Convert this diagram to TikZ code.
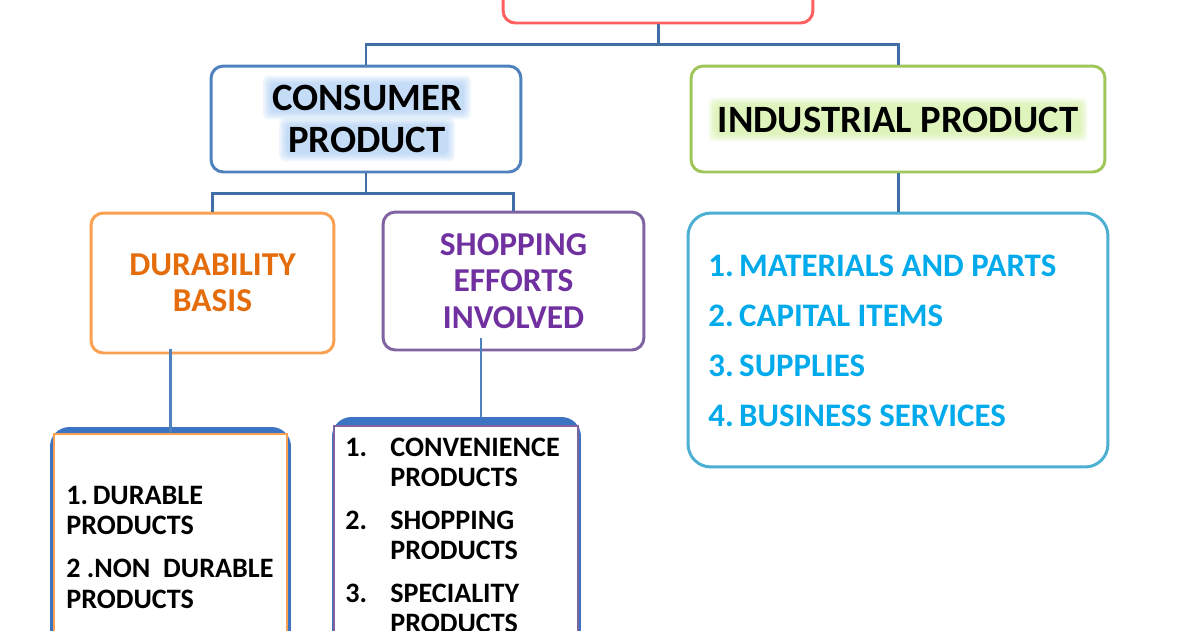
\documentclass[tikz,border=0pt]{standalone}
\usepackage{fontspec}
\setmainfont{Carlito}

\definecolor{linkblue}{RGB}{65,110,165}
\definecolor{redbox}{RGB}{255,95,95}
\definecolor{bluebox}{RGB}{79,129,189}
\definecolor{greenbox}{RGB}{160,198,90}
\definecolor{orangebox}{RGB}{250,160,80}
\definecolor{purplebox}{RGB}{128,100,162}
\definecolor{cyanbox}{RGB}{75,176,210}
\definecolor{durtext}{RGB}{228,108,10}
\definecolor{shoptext}{RGB}{112,48,160}
\definecolor{indtext}{RGB}{0,170,235}
\definecolor{backblue}{RGB}{60,115,195}
\definecolor{glowblue}{RGB}{140,185,240}
\definecolor{glowgreen}{RGB}{200,235,140}

\pgfdeclarelayer{behind}
\pgfsetlayers{behind,main}

\begin{document}
\begin{tikzpicture}[x=0.02cm,y=-0.02cm]
  \tikzstyle{box}=[draw,line width=1.7pt,rounded corners=7pt,align=center]
  \tikzstyle{link}=[draw=linkblue,line width=1.7pt]
  \tikzstyle{drop}=[draw=bluebox,line width=1.6pt]
  \tikzstyle{back}=[fill=backblue,rounded corners=11pt,inner sep=0pt]
  \tikzstyle{front}=[draw,line width=1.3pt,fill=white,inner sep=0pt]
  \tikzstyle{title}=[anchor=base,inner sep=0pt,font=\bfseries\fontsize{22}{24}\selectfont]
  \tikzstyle{item}=[anchor=base west,inner sep=0pt,font=\bfseries\fontsize{16}{17}\selectfont]

  \useasboundingbox (0,0) rectangle (1200,630);

  % top level
  \node[box,draw=redbox,minimum width=6.2cm,minimum height=1.32cm] (top) at (658,-10) {};
  \node[box,draw=bluebox,minimum width=6.2cm,minimum height=2.12cm] (consumer) at (366,119) {};
  \node[box,draw=greenbox,minimum width=8.28cm,minimum height=2.12cm] (industrial) at (898,119) {};

  \node[title] (con-1) at (367,110) {CONSUMER};
  \node[title] (con-2) at (367,152) {PRODUCT};
  \node[title] (ind-0) at (898,132) {INDUSTRIAL PRODUCT};

  % soft halo round the titles
  \begin{pgfonlayer}{behind}
    \foreach \k in {1,...,5} {
      \foreach \n in {con-1,con-2}
        \fill[glowblue,opacity=0.13,rounded corners=3pt]
          ([shift={(-\k pt,-\k pt)}]\n.south west) rectangle ([shift={(\k pt,\k pt)}]\n.north east);
      \fill[glowgreen,opacity=0.16,rounded corners=3pt]
        ([shift={(-\k pt,-\k pt)}]ind-0.south west) rectangle ([shift={(\k pt,\k pt)}]ind-0.north east);
    }
  \end{pgfonlayer}

  % second level
  \node[box,draw=orangebox,text=durtext,minimum width=4.86cm,minimum height=2.8cm,
        font=\bfseries\fontsize{19}{20.5}\selectfont] (durability) at (212.5,283)
        {DURABILITY\\BASIS};
  \node[box,draw=purplebox,text=shoptext,minimum width=5.22cm,minimum height=2.76cm,
        font=\bfseries\fontsize{19}{20.7}\selectfont] (shopping) at (513.5,281)
        {SHOPPING\\EFFORTS\\INVOLVED};
  \node[box,draw=cyanbox,rounded corners=13pt,minimum width=8.4cm,minimum height=5.08cm] (indlist) at (898,340) {};

  \foreach \i/\txt in {1/MATERIALS AND PARTS, 2/CAPITAL ITEMS, 3/SUPPLIES, 4/BUSINESS SERVICES}
    \node[item,text=indtext,font=\bfseries\fontsize{18.7}{20}\selectfont] (ind-\i) at (708,226+50*\i) {\i.\,\txt};

  % bottom lists
  \node[back,minimum width=4.82cm,minimum height=5.46cm] (dback) at (170.5,563.5) {};
  \node[front,draw=orangebox,minimum width=4.66cm,minimum height=5.32cm] (dfront) at (170.5,567) {};
  \node[back,minimum width=4.98cm,minimum height=5.66cm] (sback) at (456.5,558.5) {};
  \node[front,draw=purplebox,minimum width=4.88cm,minimum height=5.48cm] (sfront) at (456,563) {};

  \foreach \i/\txt/\y in {a/1.\,DURABLE/504, b/PRODUCTS/534, c/2 .NON\ \ DURABLE/577, d/PRODUCTS/608}
    \node[item] (dur-\i) at (66,\y) {\txt};

  \foreach \i/\first/\y in {1/CONVENIENCE/456, 2/SHOPPING/529, 3/SPECIALITY/602}
  { \node[item] (sn-\i) at (345,\y) {\i.};
    \node[item] (sa-\i) at (390,\y) {\first};
    \node[item] (sb-\i) at (390,\y+30) {PRODUCTS}; }

  % connectors
  \coordinate (j1) at (658,44);
  \coordinate (j2) at (366,193);
  \draw[link] (top.south) -- (j1);
  \draw[link] (consumer.north) |- (j1) -| (industrial.north);
  \draw[link] (consumer.south) -- (j2);
  \draw[link] (durability.north) |- (j2) -| (shopping.north);
  \draw[link] (industrial.south) -- (indlist.north);

  \coordinate (s1) at (481,338);
  \draw[drop] ([yshift=3pt]durability.south -| dfront.north) -- (dfront.north);
  \draw[drop] (s1) -- (s1 |- sback.north);
\end{tikzpicture}
\end{document}
